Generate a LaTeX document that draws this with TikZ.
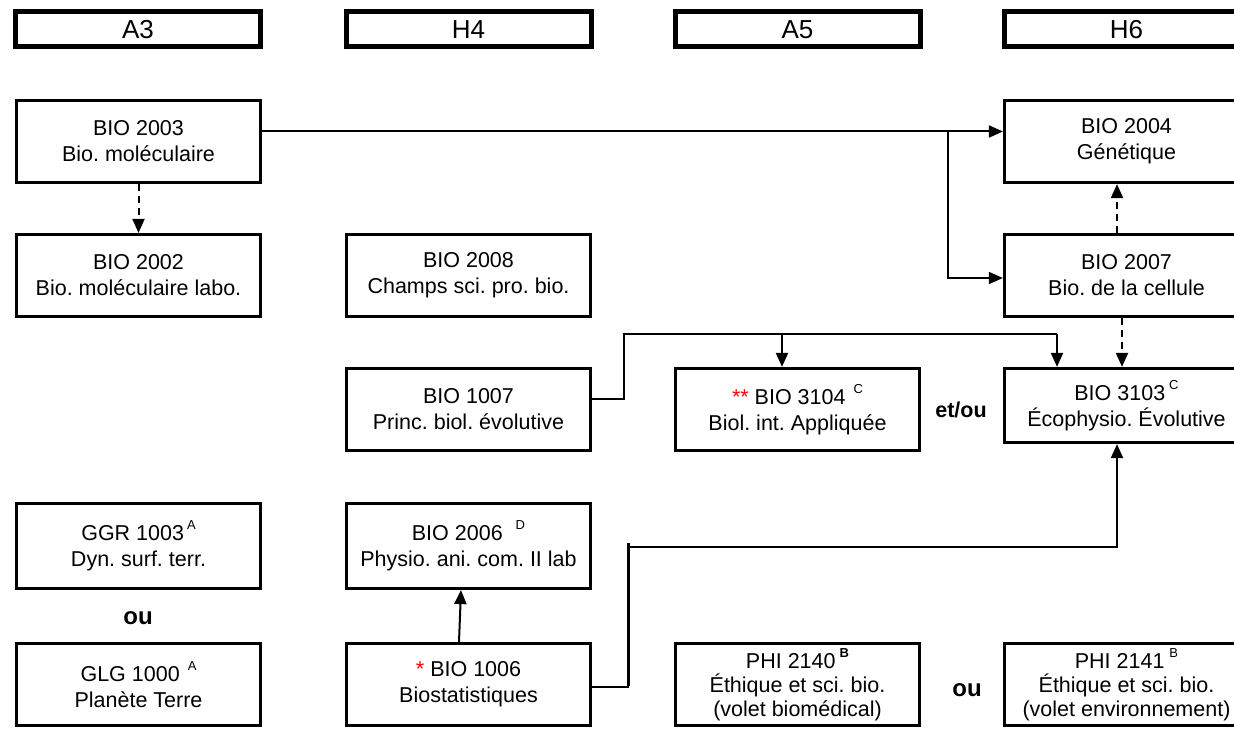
\documentclass[tikz,border=0pt]{standalone}
\usepackage{fontspec}
\setmainfont{Liberation Sans}
\usetikzlibrary{arrows.meta,calc}
\frenchspacing
\newcommand\bxfont{\fontsize{21.5}{26}\selectfont\frenchspacing}
\newcommand\bxfontc{\fontsize{21.5}{24}\selectfont\frenchspacing}
\newcommand\hdfont{\fontsize{26}{28}\selectfont}
\newcommand\sps[2]{\hspace{#1}\raisebox{10.5pt}{\fontsize{13}{13}\selectfont #2}}
\newcommand\rast[1]{\textcolor{red}{#1}}
\tikzset{
  box/.style={draw, line width=3.2pt, minimum width=244pt, minimum height=82pt,
    inner sep=0pt, align=center, font=\bxfont},
  box3/.style={box, font=\bxfontc},
  hdr/.style={draw, line width=5pt, minimum width=245pt, minimum height=35pt,
    inner sep=0pt, font=\hdfont},
  conn/.style={line width=2pt},
  arr/.style={conn, -{Triangle[length=14pt,width=12pt]}},
  darr/.style={arr, dash pattern=on 7pt off 5pt},
  lbl/.style={font=\fontsize{21.5}{24}\selectfont\bfseries, inner sep=0pt},
  lblb/.style={font=\fontsize{24}{26}\selectfont\bfseries, inner sep=0pt},
}
\begin{document}
\begin{tikzpicture}[x=1pt,y=-1pt]
\useasboundingbox (0,0) rectangle (1234,730);
\clip (0,0) rectangle (1234,730);
% headers
\node[hdr] (hA3) at (138,29.3) {\raisebox{-2pt}{A3}};
\node[hdr] (hH4) at (468.5,29.3) {\raisebox{-2pt}{H4}};
\node[hdr] (hA5) at (797.5,29.3) {\raisebox{-2pt}{A5}};
\node[hdr] (hH6) at (1126.5,29.3) {\raisebox{-2pt}{H6}};
% boxes
\node[box] (b2003) at (138.5,141.5) {BIO 2003\\Bio. moléculaire};
\node[box] (b2004) at (1126.5,141.5) {BIO 2004\\Génétique};
\node[box] (b2002) at (138.5,275.5) {BIO 2002\\Bio. moléculaire labo.};
\node[box] (b2008) at (468.5,275.5) {BIO 2008\\Champs sci. pro. bio.};
\node[box] (b2007) at (1126.5,275.5) {BIO 2007\\Bio. de la cellule};
\node[box] (b1007) at (468.5,409.5) {BIO 1007\\Princ. biol. évolutive};
\node[box] (b3104) at (797.5,409.5) {\rast{**} BIO 3104\sps{8pt}{C}\\Biol. int. Appliquée};
\node[box, minimum height=74pt] (b3103) at (1126.5,405.5) {BIO 3103\sps{4pt}{C}\\Écophysio. Évolutive};
\node[box, minimum height=85pt] (bggr) at (138.5,546) {GGR 1003\sps{3pt}{A}\\Dyn. surf. terr.};
\node[box, minimum height=85pt] (b2006) at (468.5,546) {BIO 2006\sps{13pt}{D}\\Physio. ani. com. II lab};
\node[box] (bglg) at (138.5,684.5) {GLG 1000\sps{8pt}{A}\\Planète Terre};
\node[box] (b1006) at (468.5,684.5) {\rast{*} BIO 1006\\Biostatistiques};
\node[box3] (p2140) at (797.5,684.5) {PHI 2140\sps{4pt}{\bfseries B}\\Éthique et sci. bio.\\(volet biomédical)};
\node[box3] (p2141) at (1126.5,684.5) {PHI 2141\sps{5pt}{B}\\Éthique et sci. bio.\\(volet environnement)};
% labels
\node[lblb] (ou1) at (138,618) {ou};
\node[lbl] (etou) at (961,410) {et/ou};
\node[lblb] (ou2) at (967,690) {ou};
% connectors
\coordinate (br1) at (948,131.5);
\draw[arr] ([yshift=10pt]b2003.east) -- ([yshift=10pt]b2004.west);
\draw[arr, line width=1.6pt] (br1) |- ([yshift=-2.5pt]b2007.west);
\draw[darr] (b2003.south) -- (b2002.north);
\draw[darr] ([xshift=-9.5pt]b2007.north) -- ([xshift=-9.5pt]b2004.south);
\draw[darr] ([xshift=-4.5pt]b2007.south) -- ([xshift=-4.5pt]b3103.north);
\coordinate (t1) at (624,334);
\coordinate (t2) at (782,334);
\coordinate (t3) at (1057,334);
\draw[conn] ([yshift=10.5pt]b1007.east) -| (t1) -- (t3);
\draw[arr] (t2) -- (t2 |- b3104.north);
\draw[arr] (t3) -- (t3 |- b3103.north);
\draw[arr] ([xshift=-9.5pt]b1006.north) -- ([xshift=-7.5pt]b2006.south);
\coordinate (u1) at (628,547);
\coordinate (u2) at (1117,547);
\draw[conn] ([yshift=-2.5pt]b1006.east) -| (u1);
\draw[line width=3pt] (u1 |- b1006.east) ++(0,1.5) -- ++(0,-143);
\draw[arr] (u1) -- (u2) -- (u2 |- b3103.south);
\end{tikzpicture}
\end{document}
